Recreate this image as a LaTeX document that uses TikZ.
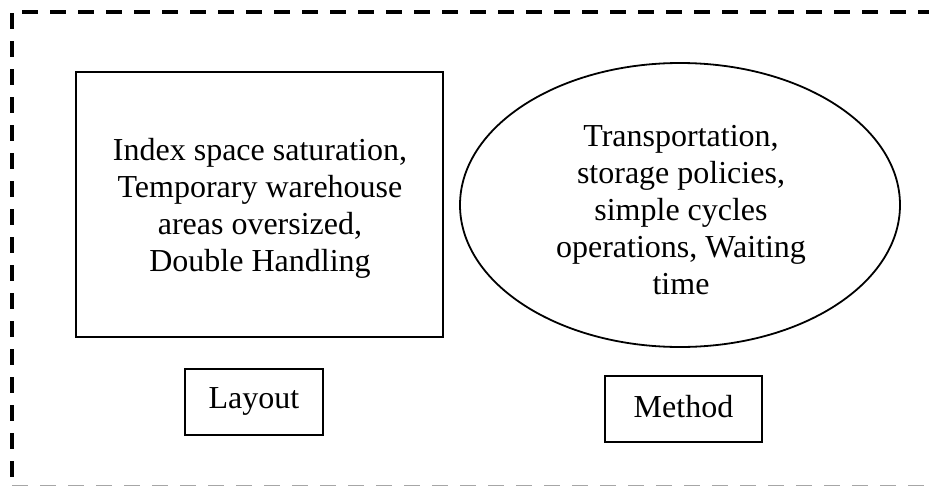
\documentclass[tikz,border=0pt]{standalone}
\usepackage{fontspec}
\setmainfont{Liberation Serif}
\usetikzlibrary{shapes.geometric}

\tikzset{
  frameline/.style={line width=4pt, dash pattern=on 16pt off 12pt},
  causebox/.style={draw, line width=2pt, rectangle, inner sep=0pt},
  causeoval/.style={draw, line width=1.8pt, ellipse, inner sep=0pt},
  labelbox/.style={draw, line width=1.1pt, rectangle, inner sep=0pt},
  bodytext/.style={align=center, font=\fontsize{32}{37}\selectfont, inner sep=0pt},
  labeltext/.style={font=\fontsize{32}{37}\selectfont, inner sep=0pt},
}

\begin{document}
\begin{tikzpicture}[x=1pt, y=-1pt]
  \useasboundingbox (0,0) rectangle (929,485);
  \clip (0,0) rectangle (929,485);

  % dashed category frame (runs past the right and bottom edges)
  \coordinate (ftl) at (22,11.5);
  \coordinate (ftr) at (960,11.5);
  \coordinate (fl1) at (12,13);
  \coordinate (fl2) at (12,500);
  \coordinate (fb1) at (12,487.2);
  \coordinate (fb2) at (960,487.2);
  \draw[frameline] (ftl) -- (ftr);
  \draw[frameline] (fl1) -- (fl2);
  \draw[frameline, black!35] (fb1) -- (fb2);

  % layout causes
  \node[causebox, minimum width=367pt, minimum height=265pt] (layoutcause) at (259.5,204.5) {};
  \node[bodytext] (layouttext) at (260,208) {Index space saturation,\\Temporary warehouse\\areas oversized,\\Double Handling};

  % method causes
  \node[causeoval, minimum width=440pt, minimum height=284pt] (methodcause) at (680,205) {};
  \node[bodytext] (methodtext) at (681,210) {Transportation,\\storage policies,\\simple cycles\\operations, Waiting\\time};

  % category labels
  \node[labelbox, minimum width=138pt, minimum height=66pt] (layoutbox) at (254,402) {};
  \node[labeltext] (layoutlabel) at (254,401) {Layout};
  \node[labelbox, minimum width=157pt, minimum height=66pt] (methodbox) at (683.5,409) {};
  \node[labeltext] (methodlabel) at (683.5,407) {Method};
\end{tikzpicture}
\end{document}
